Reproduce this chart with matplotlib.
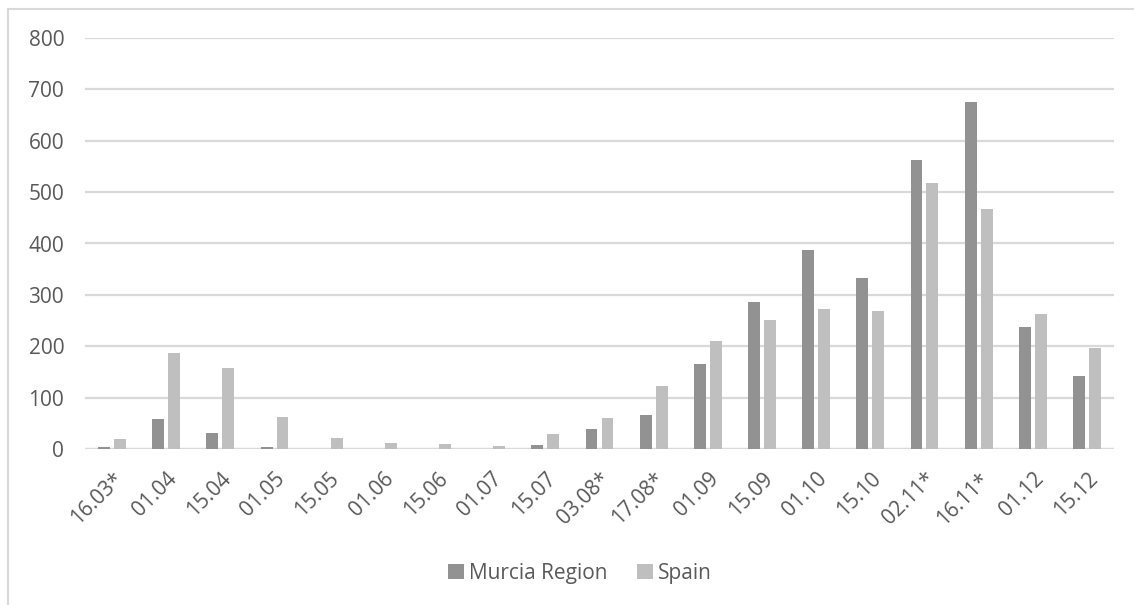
import numpy as np
import matplotlib.pyplot as plt
from matplotlib.patches import Rectangle

fechas = ["16.03*", "01.04", "15.04", "01.05", "15.05", "01.06", "15.06", "01.07",
          "15.07", "03.08*", "17.08*", "01.09", "15.09", "01.10", "15.10", "02.11*",
          "16.11*", "01.12", "15.12"]
murcia = [4, 58, 31, 4, 0, 0, 0, 0, 8, 39, 66, 166, 286, 388, 333, 563, 676, 238, 143]
spain = [19, 186, 158, 62, 22, 12, 9, 6, 30, 61, 123, 211, 251, 273, 269, 518, 468, 263, 197]

plt.rcParams['font.family'] = ['Open Sans', 'DejaVu Sans']
gris_texto = "#595959"

fig = plt.figure(figsize=(11.34, 6.05), dpi=100)
ax = fig.add_axes([85 / 1134, 1 - 449 / 605, 1029 / 1134, 411 / 605])

x = np.arange(len(fechas))
ancho = 0.22
sep = 0.037
ax.bar(x - ancho / 2 - sep, murcia, ancho, color="#929292", label="Murcia Region", zorder=3)
ax.bar(x + ancho / 2 + sep, spain, ancho, color="#bfbfbf", label="Spain", zorder=3)

ax.set_xlim(-0.5, len(fechas) - 0.5)
ax.set_ylim(0, 800)
ax.set_yticks(range(0, 801, 100))
ax.yaxis.grid(True, color="#d9d9d9", linewidth=1.6, zorder=0)
for s in ax.spines.values():
    s.set_visible(False)
ax.axhline(0, color="#d9d9d9", linewidth=1.6, zorder=2)

ax.set_xticks(x)
ax.set_xticklabels(fechas, rotation=45, ha="right", va="top", rotation_mode="anchor")
ax.tick_params(axis="y", length=0, labelsize=15, colors=gris_texto, pad=15)
ax.tick_params(axis="x", length=0, labelsize=15, colors=gris_texto, pad=14)

fig.legend(loc="center", bbox_to_anchor=(580 / 1134, 1 - 573 / 605), ncol=2, frameon=False,
           fontsize=15, labelcolor=gris_texto, handlelength=0.75, handleheight=0.75,
           handletextpad=0.25, columnspacing=1.4)

# marco del gráfico
fig.patches.append(Rectangle((8 / 1134, -0.01), 1.1, 1 - 9 / 605 + 0.01,
                             transform=fig.transFigure, fill=False,
                             edgecolor="#d9d9d9", linewidth=1.5))

fig.savefig("out.png", dpi=100)
